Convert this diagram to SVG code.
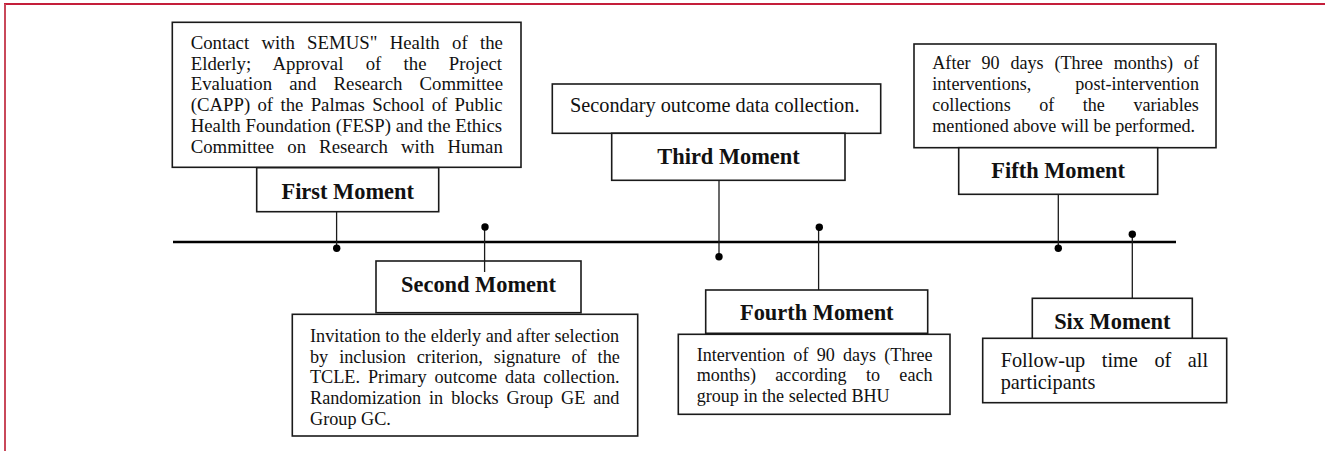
<svg xmlns="http://www.w3.org/2000/svg" width="1325" height="451" viewBox="0 0 1325 451">
<defs>
<style>
.box{fill:#fff;stroke:#1a1a1a;stroke-width:1.6}
.t{font-family:"Liberation Serif","Times New Roman",serif;font-size:18.1px;fill:#111}
.b1{font-size:18.8px}
.b2{font-size:18.2px}
.big{font-size:20.3px}
.h{font-family:"Liberation Serif","Times New Roman",serif;font-size:22.4px;font-weight:bold;fill:#111;text-anchor:middle}
.ln{stroke:#1a1a1a;stroke-width:1.3;fill:none}
.tl{stroke:#000;stroke-width:2.6}
.dot{fill:#000}
</style>
</defs>
<rect width="1325" height="451" fill="#fff"/>
<g id="frame">
<line x1="4" y1="4" x2="1325" y2="4" stroke="#c41e3a" stroke-width="2"/>
<line x1="5" y1="4" x2="5" y2="451" stroke="#c9485a" stroke-width="2"/>
</g>

<g id="first-moment">
<rect class="box" x="172.3" y="22.3" width="348.7" height="145"/>
<rect class="box" x="256.7" y="167.7" width="182" height="44"/>
<text class="h" x="347.7" y="199">First Moment</text>
<text class="t b1" x="190.7" y="49" word-spacing="7.6">Contact with SEMUS" Health of the</text>
<text class="t b1" x="190.7" y="69.7" word-spacing="17.6">Elderly; Approval of the Project</text>
<text class="t b1" x="190.7" y="90.4" word-spacing="12.5">Evaluation and Research Committee</text>
<text class="t b1" x="190.7" y="111.1" word-spacing="2.6">(CAPP) of the Palmas School of Public</text>
<text class="t b1" x="190.7" y="131.8">Health Foundation (FESP) and the Ethics</text>
<text class="t b1" x="190.7" y="152.5" word-spacing="8.4">Committee on Research with Human</text>
</g>

<g id="second-moment">
<rect class="box" x="376" y="261" width="205" height="51.7"/>
<text class="h" x="478.5" y="291.7">Second Moment</text>
<rect class="box" x="292.3" y="314.3" width="345.4" height="121.7"/>
<text class="t b2" x="310" y="341.7">Invitation to the elderly and after selection</text>
<text class="t b2" x="310" y="362.5" word-spacing="6.4">by inclusion criterion, signature of the</text>
<text class="t b2" x="310" y="383.3" word-spacing="3.4">TCLE. Primary outcome data collection.</text>
<text class="t b2" x="310" y="404.2" word-spacing="3.4">Randomization in blocks Group GE and</text>
<text class="t b2" x="310" y="425">Group GC.</text>
</g>

<g id="third-moment">
<rect class="box" x="552.3" y="84" width="328.4" height="49.3"/>
<text class="t big" x="570" y="111.7">Secondary outcome data collection.</text>
<rect class="box" x="611.7" y="133.3" width="233.3" height="47"/>
<text class="h" x="728.5" y="164">Third Moment</text>
</g>

<g id="fourth-moment">
<rect class="box" x="705.7" y="290" width="222" height="43.3"/>
<text class="h" x="816.8" y="320">Fourth Moment</text>
<rect class="box" x="678.3" y="334.3" width="271.7" height="80"/>
<text class="t" x="696.7" y="360.7" word-spacing="3.7">Intervention of 90 days (Three</text>
<text class="t" x="696.7" y="381" word-spacing="14.8">months) according to each</text>
<text class="t" x="696.7" y="401.5">group in the selected BHU</text>
</g>

<g id="fifth-moment">
<rect class="box" x="914" y="44" width="302" height="103.7"/>
<text class="t" x="932.3" y="69" word-spacing="6.4">After 90 days (Three months) of</text>
<text class="t" x="932.3" y="90" word-spacing="39.5">interventions, post-intervention</text>
<text class="t" x="932.3" y="111" word-spacing="24">collections of the variables</text>
<text class="t" x="932.3" y="131.7">mentioned above will be performed.</text>
<rect class="box" x="958.7" y="147.7" width="199" height="46.6"/>
<text class="h" x="1058.2" y="178.3">Fifth Moment</text>
</g>

<g id="six-moment">
<rect class="box" x="1032.3" y="298.3" width="160" height="41"/>
<text class="h" x="1112.3" y="329.3">Six Moment</text>
<rect class="box" x="982.7" y="338.3" width="244" height="64.4"/>
<text class="t big" x="1000.7" y="366.7" word-spacing="11.5">Follow-up time of all</text>
<text class="t big" x="1000.7" y="389.3">participants</text>
</g>

<g id="connectors">
<line class="tl" x1="173" y1="242" x2="1176" y2="242"/>
<line class="ln" x1="336.6" y1="211.7" x2="336.6" y2="248"/>
<line class="ln" x1="484.6" y1="227" x2="484.6" y2="272"/>
<line class="ln" x1="719" y1="180.3" x2="719" y2="256.7"/>
<line class="ln" x1="818.6" y1="227.3" x2="818.6" y2="290"/>
<line class="ln" x1="1058.3" y1="194.3" x2="1058.3" y2="248.3"/>
<line class="ln" x1="1132.3" y1="234.3" x2="1132.3" y2="298.3"/>
<circle class="dot" cx="336.7" cy="248.3" r="3.7"/>
<circle class="dot" cx="485" cy="227" r="3.7"/>
<circle class="dot" cx="719" cy="256.7" r="3.7"/>
<circle class="dot" cx="819.3" cy="227.3" r="3.7"/>
<circle class="dot" cx="1058.3" cy="248.3" r="3.7"/>
<circle class="dot" cx="1132.3" cy="234.3" r="3.7"/>
</g>
</svg>
